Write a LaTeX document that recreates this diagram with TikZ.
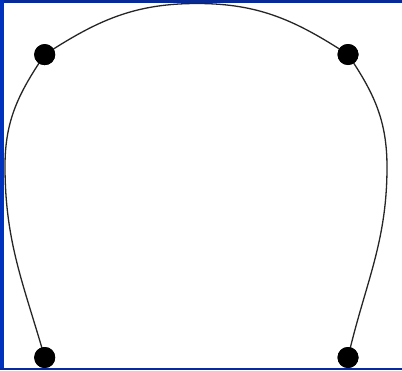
\documentclass[tikz,border=0pt]{standalone}
\begin{document}
\begin{tikzpicture}[x=1pt,y=-1pt,
  dot/.style={circle,fill=black,inner sep=0pt,minimum size=21pt},
  curve/.style={draw=black!85,line width=1.3pt}]
\useasboundingbox (0,0) rectangle (402,370);
\fill[white] (0,0) rectangle (402,370);
% frame
\fill[fill={rgb,255:red,8;green,42;blue,150}] (0,0) rectangle (402,2.6);
\fill[fill={rgb,255:red,0;green,50;blue,190}] (0,0) rectangle (4.3,370);
\fill[fill={rgb,255:red,8;green,42;blue,160}] (0,368.2) rectangle (402,370);
% key points
\coordinate (L) at (5,166);
\coordinate (T) at (197,3.5);
\coordinate (R) at (387,167);
\node[dot] (bl) at (44.7,357.5) {};
\node[dot] (tl) at (44.7,54.6) {};
\node[dot] (tr) at (348,54.5) {};
\node[dot] (br) at (348,357.5) {};
\begin{scope}
\clip (4.3,2.6) rectangle (402,368.2);
\draw[curve] (bl.center) to[out=106,in=-90] (L)
  to[out=90,in=236] (tl.center)
  to[out=33,in=180] (T)
  to[out=0,in=147] (tr.center)
  to[out=-56,in=90] (R)
  to[out=-90,in=77] (br.center);
\end{scope}
\node[dot] at (bl) {};
\node[dot] at (tl) {};
\node[dot] at (tr) {};
\node[dot] at (br) {};
\end{tikzpicture}
\end{document}
